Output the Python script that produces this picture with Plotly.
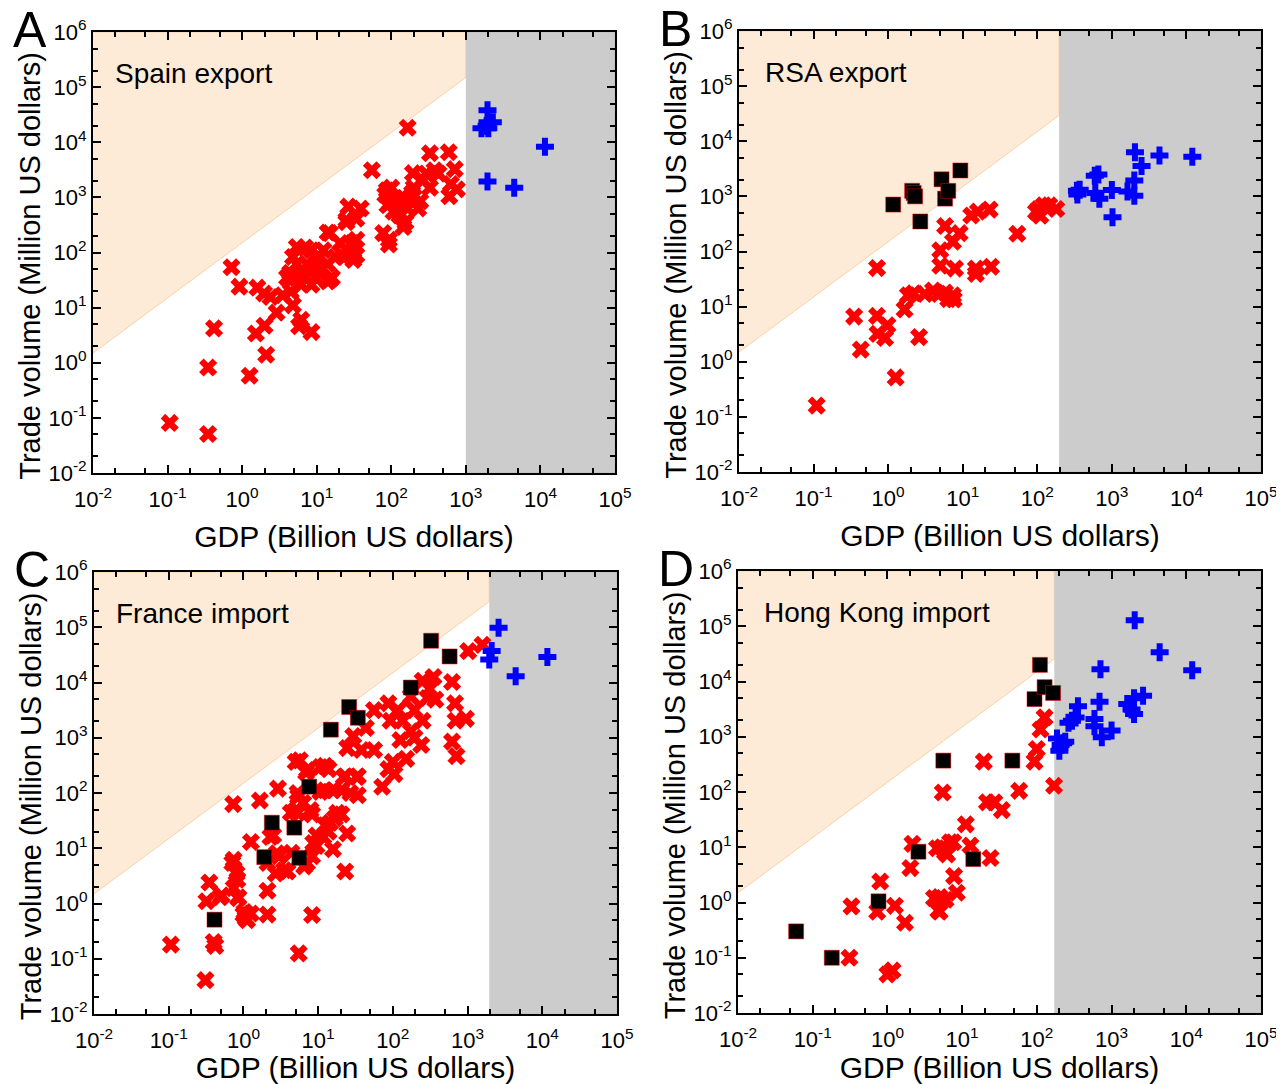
import plotly.graph_objects as go
from plotly.subplots import make_subplots

# ---- data (GDP in billion USD, trade in million USD) ----
spain_red_x = [0.107, 0.35, 0.35, 0.42, 1.26, 2.1, 0.72, 0.92, 1.53, 2.0, 2.9, 1.6, 1.97, 2.4, 3.5,
               4.8, 6.2, 5.8, 8.5, 4.5, 4, 5.4, 7, 5.4, 4.8, 6.6, 8.5, 9.6, 11, 12.3, 14, 16, 18, 14,
               20.6, 25, 26.5, 30, 34, 34, 39, 34, 23, 28, 8.5, 11, 7.4, 6.2, 8.5, 14, 55, 78, 93, 93,
               83, 100, 115, 89, 107, 129, 155, 166, 178, 200, 245, 260, 295, 330, 380, 430, 330, 590,
               710, 630, 600, 760, 166, 230, 190, 148, 87, 96, 25, 15, 4.8, 4.4, 10, 15, 31, 31, 195,
               265, 132, 145]
spain_red_y = [0.081, 0.051, 0.82, 4.2, 0.58, 1.4, 54, 24, 3.4, 4.7, 8.1, 23, 18, 15.6, 16.8,
               11, 6.0, 4.6, 3.6, 19.6, 35, 126, 123, 62, 35, 40, 47, 35, 83, 110, 62, 35, 83, 230,
               148, 355, 680, 148, 89, 170, 630, 410, 83, 89, 110, 54, 62, 26, 26, 30, 3100, 225, 140,
               170, 1120, 1500, 850, 720, 550, 470, 355, 630, 980, 1500, 850, 2000, 2700, 1500, 3100,
               2700, 6300, 6600, 3250, 1740, 1050, 1400, 18300, 630, 1200, 980, 1350, 800, 390, 225,
               83, 43, 65, 32, 126, 73, 2750, 2050, 510, 290]
spain_blue_x = [1950, 1620, 2000, 2300, 1900, 11500, 1950, 4450]
spain_blue_y = [38000, 18000, 18000, 23000, 20000, 8300, 1950, 1500]
spain_black_x = []
spain_black_y = []

rsa_red_x = [0.11, 0.43, 0.35, 0.71, 0.71, 0.72, 0.91, 0.98, 1.26, 1.66, 1.84, 2.2, 2.6, 3.1, 4,
             4.8, 5.8, 6.4, 7.4, 7.6, 5, 5, 5.8, 9.1, 7.4, 7.9, 13, 16, 23, 15, 15, 24, 54, 96, 110,
             122, 145, 180, 104]
rsa_red_y = [0.16, 1.66, 6.6, 50, 6.8, 3.2, 2.7, 4.6, 0.52, 8.9, 16, 17.5, 2.8, 17, 19.5,
             17, 18, 13.7, 16, 13.5, 105, 55, 290, 215, 150, 49, 450, 530, 575, 49, 39, 53, 210, 525,
             445, 690, 690, 590, 590]
rsa_blue_x = [340, 370, 345, 590, 660, 600, 680, 1000, 1020, 1620, 2000, 2000, 2040, 2500, 4350, 12000]
rsa_blue_y = [1260, 1320, 1080, 2360, 2500, 1150, 910, 1300, 420, 1230, 1950, 1030, 6300, 3550, 5500, 5250]
rsa_black_x = [1.17, 2.1, 2.2, 2.3, 2.7, 5.2, 5.8, 6.4, 9.3]
rsa_black_y = [710, 1260, 1150, 1000, 350, 2040, 910, 1260, 2950]

france_red_x = [0.107, 0.31, 0.4, 0.42, 5.5, 8.3, 0.35, 0.32, 0.51, 0.73, 0.71, 0.81, 0.74, 0.85,
                1.03, 1.07, 1.26, 2.1, 2.1, 1.26, 1.66, 2.5, 2.9, 2.1, 3, 2.7, 3.9, 4.4, 5, 5.4, 5,
                5.7, 6.9, 6.5, 8.3, 9.5, 9.5, 8.3, 12.4, 13.8, 15.8, 16.7, 20.5, 24.5, 23, 12.4, 13.8,
                12.3, 20.5, 23, 34, 34, 24.5, 29.5, 38, 56, 43.6, 56, 72, 87, 100, 105, 87, 93, 117,
                126, 151, 174, 195, 195, 240, 290, 250, 310, 350, 370, 250, 620, 620, 680, 690, 710,
                950, 1020, 1580, 174, 135, 0.74, 0.83, 0.49, 0.85, 1.0, 1.12, 7.1, 3.5, 2.8, 2.3, 4.3,
                5.3, 7.9, 8.6, 11.7, 14.5, 18, 10.7, 15.8, 27, 33, 22, 10.7, 7.1, 5.3, 6.3]
france_red_y = [0.18, 0.041, 0.2, 0.17, 0.125, 0.62, 2.4, 1.1, 1.4, 63, 5.4, 3.5, 1.9, 1.25,
                0.7, 0.54, 0.66, 1.7, 0.63, 13, 73, 17, 120, 5.4, 7.2, 3.5, 3.8, 8.3, 48, 86, 365,
                390, 235, 4.7, 7.2, 11, 17, 41, 26, 20, 9.6, 35, 41, 18.5, 3.8, 112, 270, 310, 112,
                200, 200, 91, 650, 1070, 600, 600, 1500, 3160, 130, 270, 365, 220, 4200, 2030, 3160,
                910, 415, 1310, 3160, 1000, 740, 5250, 2030, 7600, 12600, 4900, 10700, 10200, 850,
                4200, 2030, 465, 2200, 37000, 48000, 5600, 2030, 6.2, 2.7, 1.3, 1.3, 0.63, 0.5, 5.4,
                4, 8.1, 16, 44, 44, 49, 12.4, 16, 29, 44, 105, 112, 100, 195, 195, 295, 260, 100, 66]
france_blue_x = [2600, 2100, 1950, 4400, 11700]
france_blue_y = [98000, 37000, 26000, 13000, 29000]
france_black_x = [0.41, 1.9, 2.4, 4.8, 5.6, 7.6, 14.8, 26, 34, 174, 325, 575]
france_black_y = [0.51, 6.9, 29, 23.6, 6.7, 130, 1400, 3600, 2300, 8100, 57000, 29600]

hk_red_x = [0.31, 1.0, 1.17, 0.33, 0.73, 0.8, 1.26, 1.72, 2.03, 2.16, 4.2, 5, 6, 5.4, 6.3, 7.6,
            7.8, 8.5, 5.5, 11.2, 12.9, 24, 19.5, 21.5, 27, 34, 58, 93, 100, 112, 127, 170, 5.9,
            4.6, 6.9, 4.8, 5.0]
hk_red_y = [0.1, 0.05, 0.059, 0.85, 0.68, 2.4, 0.87, 0.43, 4.2, 11.5, 1.2, 0.68, 1.12, 10, 7.4,
            12.3, 3, 1.5, 98, 26, 10.7, 6.4, 355, 65, 65, 47, 105, 355, 600, 1350, 2240, 130, 8.1,
            9.6, 12.3, 0.72, 1.26]
hk_blue_x = [2040, 4400, 12000, 710, 690, 355, 295, 330, 265, 590, 590, 740, 1000, 1620, 2000,
             2640, 2000, 1850, 186, 208, 240, 200, 225]
hk_blue_y = [129000, 34000, 16000, 16600, 4300, 3550, 1940, 2240, 1800, 2100, 1550, 975, 1300,
             3900, 5000, 5500, 2570, 3100, 930, 710, 810, 560, 760]
hk_black_x = [0.06, 0.18, 0.76, 2.6, 5.6, 14.1, 47, 93, 110, 127, 165]
hk_black_y = [0.30, 0.1, 1.05, 8.3, 370, 6.1, 370, 4800, 20000, 7900, 6200]

panel_letters = ["A", "B", "C", "D"]
panel_names = ["Spain export", "RSA export", "France import", "Hong Kong import"]
reporter_gdp = [1000, 196, 1950, 171]   # left edge of the grey band
trade_ratio = 150                        # slope of the shaded diagonal (trade = 150 x GDP)
x_lim = [1e-2, 1e5]
y_lim = [1e-2, 1e6]
x_exps = [-2, -1, 0, 1, 2, 3, 4, 5]
y_exps = [-2, -1, 0, 1, 2, 3, 4, 5, 6]
x_title = "GDP (Billion US dollars)"
y_title = "Trade volume (Million US dollars)"

reds = [(spain_red_x, spain_red_y), (rsa_red_x, rsa_red_y), (france_red_x, france_red_y), (hk_red_x, hk_red_y)]
blues = [(spain_blue_x, spain_blue_y), (rsa_blue_x, rsa_blue_y), (france_blue_x, france_blue_y), (hk_blue_x, hk_blue_y)]
blacks = [(spain_black_x, spain_black_y), (rsa_black_x, rsa_black_y), (france_black_x, france_black_y), (hk_black_x, hk_black_y)]

FONT = "Arial, Liberation Sans, sans-serif"
# the page body adds an 8 px margin, so the figure is 8 px smaller and all frames shift by 8
PAD = 8
W, H = 1284 - PAD, 1084 - PAD

# pixel frames of the four panels on the page: left, right, top, bottom
frames = [(93, 615, 32, 473), (739, 1261, 31, 472), (94, 617, 572, 1014), (738, 1261, 571, 1013)]
cells = [(1, 1), (1, 2), (2, 1), (2, 2)]

fig = make_subplots(rows=2, cols=2)

for i, (r, c) in enumerate(cells):
    xg = reporter_gdp[i]
    # peach triangle above the diagonal
    fig.add_trace(go.Scatter(
        x=[x_lim[0], xg, xg, x_lim[0]],
        y=[trade_ratio * x_lim[0], trade_ratio * xg, y_lim[1], y_lim[1]],
        fill="toself", fillcolor="#FDEBD7", mode="lines",
        line=dict(color="#FAD0A8", width=1), hoverinfo="skip", showlegend=False
    ), row=r, col=c)
    # grey band right of the reporter GDP
    fig.add_trace(go.Scatter(
        x=[xg, x_lim[1], x_lim[1], xg],
        y=[y_lim[0], y_lim[0], y_lim[1], y_lim[1]],
        fill="toself", fillcolor="#CCCCCC", mode="lines",
        line=dict(color="#BDBDBD", width=1), hoverinfo="skip", showlegend=False
    ), row=r, col=c)
    fig.add_trace(go.Scatter(
        x=reds[i][0], y=reds[i][1], mode="markers",
        marker=dict(symbol="x", size=16, color="#FF0000", line=dict(width=0)),
        showlegend=False
    ), row=r, col=c)
    fig.add_trace(go.Scatter(
        x=blues[i][0], y=blues[i][1], mode="markers",
        marker=dict(symbol="cross", size=15, color="#0000FF", line=dict(width=0)),
        showlegend=False
    ), row=r, col=c)
    if blacks[i][0]:
        fig.add_trace(go.Scatter(
            x=blacks[i][0], y=blacks[i][1], mode="markers",
            marker=dict(symbol="square", size=15, color="#000000", line=dict(color="#FF0000", width=0.5)),
            showlegend=False
        ), row=r, col=c)

    left, right, top, bottom = [v - PAD for v in frames[i]]
    axis_common = dict(
        type="log", automargin=False, showline=True, linecolor="black", linewidth=2, mirror="allticks",
        ticks="inside", ticklen=8, tickwidth=2, tickcolor="black", showgrid=False, zeroline=False,
        tickfont=dict(family=FONT, size=22, color="black"),
        minor=dict(ticks="inside", ticklen=5, tickwidth=1.5, tickcolor="black", showgrid=False),
    )
    fig.update_xaxes(
        domain=[left / W, right / W], range=[-2, 5],
        tickmode="array", tickvals=[10.0 ** e for e in x_exps],
        ticktext=[f"10<sup>{e}</sup>" for e in x_exps], ticklabelstandoff=6,
        title=dict(text=x_title, font=dict(family=FONT, size=30, color="black")),
        row=r, col=c, **axis_common
    )
    fig.update_xaxes(minor_tickmode="array",
                     minor_tickvals=[m * 10.0 ** e for e in x_exps[:-1] for m in (2, 5)], row=r, col=c)
    fig.update_yaxes(
        domain=[1 - bottom / H, 1 - top / H], range=[-2, 6],
        tickmode="array", tickvals=[10.0 ** e for e in y_exps],
        ticktext=[f"10<sup>{e}</sup>" for e in y_exps],
        row=r, col=c, **axis_common
    )
    fig.update_yaxes(minor_tickmode="array",
                     minor_tickvals=[m * 10.0 ** e for e in y_exps[:-1] for m in (2, 5)], row=r, col=c)

    xref = "x domain" if i == 0 else f"x{i + 1} domain"
    yref = "y domain" if i == 0 else f"y{i + 1} domain"
    # vertical axis title, sitting a little below the axis centre as in the reference
    fig.add_annotation(text=y_title, textangle=-90, xref="paper", yref=yref,
                       x=(left - 63) / W, y=0.47, xanchor="center", yanchor="middle",
                       showarrow=False, font=dict(family=FONT, size=29, color="black"))
    # panel label inside the plot
    fig.add_annotation(text=panel_names[i], xref=xref, yref=yref,
                       x=(20 if i in (0, 2) else 24) / 522, y=0.905, xanchor="left", yanchor="middle",
                       showarrow=False, font=dict(family=FONT, size=28, color="black"))
    # panel letter
    fig.add_annotation(text=panel_letters[i], xref="paper", yref="paper",
                       x=(left - 82) / W, y=1 - (top - 2) / H, xanchor="left", yanchor="middle",
                       showarrow=False, font=dict(family=FONT, size=50, color="black"))

fig.update_layout(
    width=W, height=H, margin=dict(l=0, r=0, t=0, b=0),
    paper_bgcolor="white", plot_bgcolor="white", showlegend=False,
    font=dict(family=FONT, color="black"),
)

fig.write_html("out.html")
